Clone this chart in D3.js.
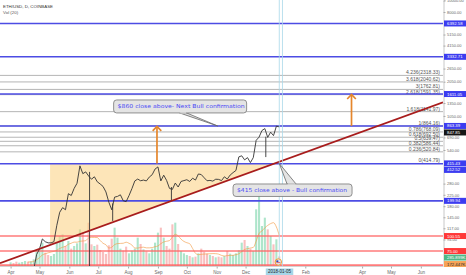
<!DOCTYPE html>
<html>
<head>
<meta charset="utf-8">
<title>ETH/USD</title>
<script src="https://cdn.jsdelivr.net/npm/d3@7"></script>
<style>
  body { margin: 0; background: #fff; }
  svg { display: block; font-family: "Liberation Sans", Arial, sans-serif; }
</style>
</head>
<body>
<div id="chart"></div>
<script>
// ETH/USD daily (Coinbase), one sample every 3 days from 1 Apr 2017
const sampleStart = "2017-04-01";
const sampleStepDays = 3;
const closes = [
    50, 45, 43, 44, 47, 49, 48, 49, 52, 70,
    78, 95, 90, 88, 88, 90, 124, 160, 175, 168,
    230, 222, 255, 282, 396, 340, 352, 325, 305, 320,
    290, 278, 265, 238, 195, 168, 215, 218, 225, 200,
    197, 222, 254, 295, 306, 296, 300, 295, 318, 333,
    372, 388, 295, 330, 298, 255, 250, 283, 262, 292,
    297, 302, 292, 311, 300, 338, 334, 314, 296, 298,
    294, 305, 304, 297, 320, 306, 331, 347, 362, 472,
    482, 445, 465, 422, 465, 652, 694, 790, 820, 690,
    765, 715, 860, 847.85
];
// volume in thousands of ETH
const volumes = [
    110, 90, 130, 100, 120, 150, 130, 140, 200, 480,
    520, 700, 400, 330, 300, 360, 700, 900, 950, 600,
    750, 520, 600, 680, 1100, 1000, 680, 1300, 650, 600,
    640, 480, 420, 360, 620, 820, 1150, 850, 520, 460,
    580, 380, 460, 520, 850, 660, 500, 440, 380, 520,
    700, 1000, 1150, 850, 600, 520, 1250, 1300, 660, 450,
    380, 330, 300, 260, 280, 380, 520, 430, 370, 330,
    300, 260, 280, 260, 300, 450, 370, 330, 380, 470,
    700, 780, 600, 520, 450, 1700, 2100, 1200, 1450, 1100,
    900, 650, 800, 285.899
];

// long wicks
const wickDates = ["2017-06-22", "2017-07-16", "2017-09-15", "2017-12-22"];
const wickHighs = [352, 190, 262, 700];
const wickLows = [0.1, 135, 200, 470];

// fibonacci extension
const fibRatios = ["0", "0.236", "0.382", "0.5", "0.618", "0.786", "1", "1.618", "2.618", "3", "3.618", "4.236"];
const fibPrices = [414.79, 520.84, 586.44, 639.47, 692.50, 768.09, 864.16, 1141.97, 1591.35, 1762.81, 2040.62, 2318.33];

// horizontal levels
const blueLevels = [6392.58, 3332.71, 1611.05, 863.39, 412.52, 199.94];
const redLevels = [100.55, 75.00, 57.00];

// rising trend line (two anchors)
const trendDates = ["2017-04-28", "2018-04-20"];
const trendPrices = [76.6, 880];

// ascending triangle
const triangleStart = "2017-05-12";
const triangleTop = 414.79;

// target arrows
const arrowDates = ["2017-08-31", "2018-03-21"];
const arrowFrom = [414.79, 863.39];
const arrowTo = [863.39, 1611.05];

// callouts
const calloutTexts = ["$860 close above- Next Bull confirmation", "$415 close above - Bull confirmation"];
const calloutBoxDates = ["2017-07-17", "2017-11-18"];
const calloutBoxPrices = [1435, 278];
const calloutTipDates = ["2017-11-02", "2018-01-05"];
const calloutTipPrices = [863.39, 414.79];

// axis (labels hidden behind the price tags are left out)
const priceTicks = [10000, 8000, 5150, 4150, 2650, 2050, 1350, 1050, 690, 540, 280, 225, 180, 145, 117, 94];
const monthTicks = ["2017-04-01", "2017-05-01", "2017-06-01", "2017-07-01", "2017-08-01", "2017-09-01",
    "2017-10-01", "2017-11-01", "2017-12-01", "2018-02-01", "2018-04-01", "2018-05-01", "2018-06-01"];
const crosshairDate = "2018-01-05";

// price scale tags
const tagPrices = [6392.58, 3332.71, 1611.05, 863.39, 847.85, 415.43, 412.52, 199.94, 100.55, 75.00, 57.00];
const tagKinds = ["blue", "blue", "blue", "blue", "last", "blue", "blue", "blue", "red", "red", "red"];
const volTagValues = [285.899, 172.447];
const volTagKinds = ["vol", "ma"];

const width = 466, height = 275;
const plotW = 443, plotH = 266;

const parse = d3.utcParse("%Y-%m-%d");
const dates = closes.map((d, i) => d3.utcDay.offset(parse(sampleStart), i * sampleStepDays));

const x = d3.scaleUtc()
    .domain([parse("2017-03-21"), parse("2018-06-24")])
    .range([0, plotW]);
const y = d3.scaleLog()
    .domain([56, 10110])
    .range([plotH, 0]);
const yVol = d3.scaleLinear()
    .domain([0, 2400])
    .range([plotH, plotH - 80]);

const svg = d3.select("#chart").append("svg")
    .attr("width", width)
    .attr("height", height);

svg.append("defs").append("clipPath").attr("id", "plot")
    .append("rect").attr("width", plotW).attr("height", plotH);

const plot = svg.append("g").attr("clip-path", "url(#plot)");

// Volume bars
const barW = x(dates[1]) - x(dates[0]) - 0.8;
plot.selectAll(".vol")
    .data(volumes)
    .enter()
    .append("rect")
    .attr("x", (d, i) => x(dates[i]) - barW / 2)
    .attr("y", d => yVol(d))
    .attr("width", barW)
    .attr("height", d => plotH - yVol(d))
    .attr("fill", (d, i) => i > 0 && closes[i] < closes[i - 1] ? "#f48b8b" : "#6cd0a0")
    .attr("opacity", 0.55);

// Volume moving average (~20 days)
const maWindow = 7;
const volMA = volumes.map((v, i) => i < maWindow - 1 ? null : d3.mean(volumes.slice(i - maWindow + 1, i + 1)));
plot.append("path")
    .datum(volMA.map((v, i) => [dates[i], v]).filter(d => d[1] !== null))
    .attr("fill", "none")
    .attr("stroke", "#f39a45")
    .attr("stroke-width", 0.9)
    .attr("opacity", 0.7)
    .attr("d", d3.line().x(d => x(d[0])).y(d => yVol(d[1])).curve(d3.curveMonotoneX));

// Trend line helper: straight on the log chart
const t0 = parse(trendDates[0]).getTime(), t1 = parse(trendDates[1]).getTime();
const lp0 = Math.log(trendPrices[0]), lp1 = Math.log(trendPrices[1]);
const trendAt = t => Math.exp(lp0 + (lp1 - lp0) * (t - t0) / (t1 - t0));
const trendTimeAt = p => t0 + (Math.log(p) - lp0) / (lp1 - lp0) * (t1 - t0);

// Triangle
const triStart = parse(triangleStart).getTime();
const triEnd = trendTimeAt(triangleTop);
plot.append("polygon")
    .attr("points", [
        [x(triStart), y(triangleTop)],
        [x(triEnd), y(triangleTop)],
        [x(triStart), y(trendAt(triStart))]
    ].map(p => p.join(",")).join(" "))
    .attr("fill", "#fbd07e")
    .attr("opacity", 0.55);

// Fib levels
plot.selectAll(".fib")
    .data(fibPrices)
    .enter()
    .append("line")
    .attr("x1", 0).attr("x2", plotW)
    .attr("y1", d => y(d)).attr("y2", d => y(d))
    .attr("stroke", "#a2a2a2")
    .attr("stroke-width", 0.8);

plot.selectAll(".fibLabel")
    .data(fibPrices)
    .enter()
    .append("text")
    .attr("x", 440)
    .attr("y", d => y(d) - 1)
    .attr("text-anchor", "end")
    .attr("font-size", "5px")
    .attr("fill", "#555")
    .text((d, i) => `${fibRatios[i]}(${d.toFixed(2)})`);

// Blue and red horizontal levels
plot.selectAll(".blue")
    .data(blueLevels)
    .enter()
    .append("line")
    .attr("x1", 0).attr("x2", plotW)
    .attr("y1", d => y(d)).attr("y2", d => y(d))
    .attr("stroke", "#4c4ce4")
    .attr("stroke-width", 1.6);

plot.selectAll(".red")
    .data(redLevels)
    .enter()
    .append("line")
    .attr("x1", 0).attr("x2", plotW)
    .attr("y1", d => y(d)).attr("y2", d => y(d))
    .attr("stroke", "#ff6464")
    .attr("stroke-width", 1.6)
    .attr("opacity", 0.85);

// Price
plot.append("path")
    .datum(closes)
    .attr("fill", "none")
    .attr("stroke", "#333")
    .attr("stroke-width", 0.9)
    .attr("d", d3.line().x((d, i) => x(dates[i])).y(d => y(d)));

plot.selectAll(".wick")
    .data(wickDates)
    .enter()
    .append("line")
    .attr("x1", d => x(parse(d))).attr("x2", d => x(parse(d)))
    .attr("y1", (d, i) => y(wickHighs[i]))
    .attr("y2", (d, i) => Math.min(y(wickLows[i]), plotH + 5))
    .attr("stroke", "#333")
    .attr("stroke-width", 0.9);

// Trend line, extended across the chart
const [xa, xb] = x.domain().map(d => d.getTime());
plot.append("line")
    .attr("x1", x(xa)).attr("y1", y(trendAt(xa)))
    .attr("x2", x(xb)).attr("y2", y(trendAt(xb)))
    .attr("stroke", "#a81c1c")
    .attr("stroke-width", 1.8);

// Arrows
arrowDates.forEach((d, i) => {
    const ax = x(parse(d));
    const yTop = y(arrowTo[i]);
    const g = plot.append("g")
        .attr("stroke", "#e5862c")
        .attr("stroke-width", 1.7)
        .attr("fill", "none");
    g.append("line")
        .attr("x1", ax).attr("x2", ax)
        .attr("y1", y(arrowFrom[i])).attr("y2", yTop + 0.5);
    g.append("path")
        .attr("d", `M${ax - 4.3},${yTop + 5} L${ax},${yTop + 0.5} L${ax + 4.3},${yTop + 5}`);
});

// Crosshair
const cx = x(parse(crosshairDate));
[cx, cx + 3.2].forEach(v => {
    svg.append("line")
        .attr("x1", v).attr("x2", v)
        .attr("y1", 0).attr("y2", plotH)
        .attr("stroke", "#a9d8ea")
        .attr("stroke-width", 0.8);
});

// Event marker near the bottom
const ev = svg.append("g").attr("transform", `translate(${x(parse("2018-01-04"))},${plotH - 4})`);
ev.append("circle").attr("r", 3.2).attr("fill", "#dfe4f7").attr("stroke", "#f0a030").attr("stroke-width", 1);
ev.append("rect").attr("x", -2).attr("y", -1.6).attr("width", 2).attr("height", 1.6).attr("fill", "#3344aa");
ev.append("line").attr("x1", -2).attr("x2", 2).attr("y1", 0.6).attr("y2", 0.6).attr("stroke", "#dd3333").attr("stroke-width", 0.7);

// Callouts
const calloutW = [133, 119];
const calloutH = [13, 12.5];
const calloutTextW = [127, 110];
const tailOffsets = [[66, 73], [54, 63]];

calloutTexts.forEach((txt, i) => {
    const bx = x(parse(calloutBoxDates[i]));
    const by = y(calloutBoxPrices[i]);
    const tx = x(parse(calloutTipDates[i]));
    const ty = y(calloutTipPrices[i]);
    const baseY = ty > by ? by + calloutH[i] : by;
    const g = svg.append("g");
    g.append("polygon")
        .attr("points", `${bx + tailOffsets[i][0]},${baseY} ${tx},${ty} ${bx + tailOffsets[i][1]},${baseY}`)
        .attr("fill", "#e4e4e4")
        .attr("stroke", "#666")
        .attr("stroke-width", 0.8);
    g.append("rect")
        .attr("x", bx).attr("y", by)
        .attr("width", calloutW[i]).attr("height", calloutH[i])
        .attr("rx", 3)
        .attr("fill", "#e4e4e4")
        .attr("stroke", "#777")
        .attr("stroke-width", 0.8);
    g.append("line")
        .attr("x1", bx + tailOffsets[i][0] + 0.6).attr("x2", bx + tailOffsets[i][1] - 0.6)
        .attr("y1", baseY).attr("y2", baseY)
        .attr("stroke", "#e4e4e4")
        .attr("stroke-width", 1.2);
    g.append("text")
        .attr("x", bx + 4)
        .attr("y", by + calloutH[i] / 2 + 2)
        .attr("font-family", "DejaVu Sans, sans-serif")
        .attr("font-size", "5.4px")
        .attr("fill", "#4b4bf5")
        .attr("textLength", calloutTextW[i])
        .attr("lengthAdjust", "spacingAndGlyphs")
        .text(txt);
});

// Price axis
const yAxis = svg.append("g")
    .attr("transform", `translate(${plotW + 0.5},0)`)
    .call(d3.axisRight(y).tickValues(priceTicks).tickFormat(d3.format(".2f")).tickSize(2).tickPadding(1.5));
yAxis.select(".domain").attr("stroke", "#c8c8c8");
yAxis.selectAll(".tick line").attr("stroke", "#aaa");
yAxis.selectAll("text").attr("font-size", "4px").attr("fill", "#666").attr("font-family", "Liberation Sans, Arial, sans-serif");

// Price tags with overlap resolution
const tagFill = { blue: "#3c3cf0", last: "#161616", red: "#ff3838", vol: "#4fb886", ma: "#f7a357" };
const tags = tagPrices.map((p, i) => ({ text: p.toFixed(2), y: y(p), kind: tagKinds[i] }))
    .concat(volTagValues.map((v, i) => ({ text: v.toFixed(3) + "K", y: yVol(v), kind: volTagKinds[i] })));
tags.sort((a, b) => a.y - b.y);
for (let i = 1; i < tags.length; i++) {
    if (tags[i].y < tags[i - 1].y + 6.5) tags[i].y = tags[i - 1].y + 6.5;
}
tags.forEach(t => {
    svg.append("rect")
        .attr("x", plotW + 1).attr("y", t.y - 3)
        .attr("width", width - plotW - 1).attr("height", 6)
        .attr("fill", tagFill[t.kind]);
    svg.append("text")
        .attr("x", plotW + 4).attr("y", t.y + 1.5)
        .attr("font-size", "4.3px")
        .attr("fill", t.kind === "ma" ? "#2a2a2a" : "#fff")
        .text(t.text);
});

// Time axis strip
svg.append("rect")
    .attr("x", 0).attr("y", plotH + 1)
    .attr("width", width).attr("height", height - plotH - 1)
    .attr("fill", "#fff");
svg.append("line")
    .attr("x1", 0).attr("x2", plotW + 0.5)
    .attr("y1", plotH + 0.5).attr("y2", plotH + 0.5)
    .attr("stroke", "#c8c8c8")
    .attr("stroke-width", 0.8);

const xAxis = svg.append("g")
    .attr("transform", `translate(0,${plotH + 0.5})`)
    .call(d3.axisBottom(x).tickValues(monthTicks.map(parse)).tickFormat(d3.utcFormat("%b")).tickSize(2).tickPadding(2));
xAxis.select(".domain").remove();
xAxis.selectAll(".tick line").attr("stroke", "#aaa");
xAxis.selectAll("text").attr("font-size", "4.5px").attr("fill", "#666").attr("font-family", "Liberation Sans, Arial, sans-serif");

// Crosshair date box
svg.append("rect")
    .attr("x", cx - 13.5).attr("y", plotH + 2.5)
    .attr("width", 27.5).attr("height", 6.5)
    .attr("fill", "#a6d6e8");
svg.append("text")
    .attr("x", cx + 0.3).attr("y", plotH + 7.4)
    .attr("text-anchor", "middle")
    .attr("font-size", "4.5px")
    .attr("fill", "#2a2a2a")
    .text(crosshairDate);

// Titles
svg.append("text")
    .attr("x", 3).attr("y", 7.5)
    .attr("font-size", "4.4px")
    .attr("fill", "#333")
    .text("ETH/USD, D, COINBASE");
svg.append("text")
    .attr("x", 3).attr("y", 14)
    .attr("font-size", "4.4px")
    .attr("fill", "#555")
    .text("Vol (20)");
</script>
</body>
</html>
